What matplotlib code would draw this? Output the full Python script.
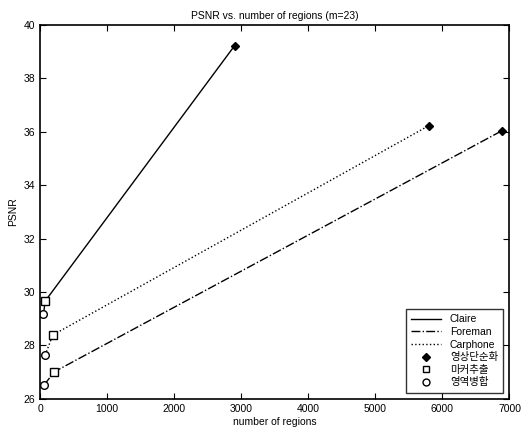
import numpy as np
import matplotlib
matplotlib.use("Agg")
import matplotlib.pyplot as plt
from matplotlib.lines import Line2D

plt.rcParams['font.family'] = ['Liberation Sans', 'Noto Sans CJK KR', 'DejaVu Sans']

# series: [region merge (circle), marker extraction (square), simplification (diamond)]
names = ["Claire", "Foreman", "Carphone"]
regions = {
    "Claire":   [49, 74, 2900],
    "Foreman":  [59, 208, 6890],
    "Carphone": [74, 188, 5800],
}
psnr = {
    "Claire":   [29.16, 29.66, 39.22],
    "Foreman":  [26.52, 27.01, 36.04],
    "Carphone": [27.64, 28.39, 36.23],
}
styles = {"Claire": "-", "Foreman": "-.", "Carphone": ":"}
marker_labels = ["영상단순화", "마커추출", "영역병합"]

fig = plt.figure(figsize=(5.22, 4.28), dpi=100)
ax = fig.add_axes([0.077, 0.068, 0.899, 0.874])

for n in names:
    ax.plot(regions[n], psnr[n], linestyle=styles[n], color="black", linewidth=1.0)

# markers
dx = [regions[n][2] for n in names]
dy = [psnr[n][2] for n in names]
sx = [regions[n][1] for n in names]
sy = [psnr[n][1] for n in names]
cx = [regions[n][0] for n in names]
cy = [psnr[n][0] for n in names]
ax.plot(dx, dy, "D", color="black", markersize=4, linestyle="none")
ax.plot(sx, sy, "s", mfc="white", mec="black", markersize=6, mew=1.0, linestyle="none")
ax.plot(cx, cy, "o", mfc="white", mec="black", markersize=5.5, mew=1.0, linestyle="none")

ax.set_xlim(0, 7000)
ax.set_ylim(26, 40)
ax.set_xticks(np.arange(0, 7001, 1000))
ax.set_yticks(np.arange(26, 41, 2))
ax.tick_params(direction="in", length=4, labelsize=7.5, top=True, right=True,
               labeltop=False, labelright=False)
for s in ax.spines.values():
    s.set_linewidth(1.2)

ax.set_title("PSNR vs. number of regions (m=23)", fontsize=7.5, pad=4)
ax.set_xlabel("number of regions", fontsize=7.5, labelpad=2)
ax.set_ylabel("PSNR", fontsize=7.5, labelpad=4)

handles = [Line2D([], [], color="black", linestyle=styles[n], linewidth=1.0) for n in names]
handles += [
    Line2D([], [], marker="D", color="black", markersize=4, linestyle="none"),
    Line2D([], [], marker="s", mfc="white", mec="black", markersize=5, linestyle="none"),
    Line2D([], [], marker="o", mfc="white", mec="black", markersize=5, linestyle="none"),
]
leg = ax.legend(handles, names + marker_labels, loc="lower right", fontsize=7.5,
                frameon=True, fancybox=False, edgecolor="black", handlelength=2.8,
                labelspacing=0.25, borderpad=0.5, handletextpad=0.9,
                bbox_to_anchor=(1.0, 0.0), borderaxespad=0.6)
leg.get_frame().set_linewidth(1.0)

fig.savefig("out.png", dpi=100, facecolor="white")
